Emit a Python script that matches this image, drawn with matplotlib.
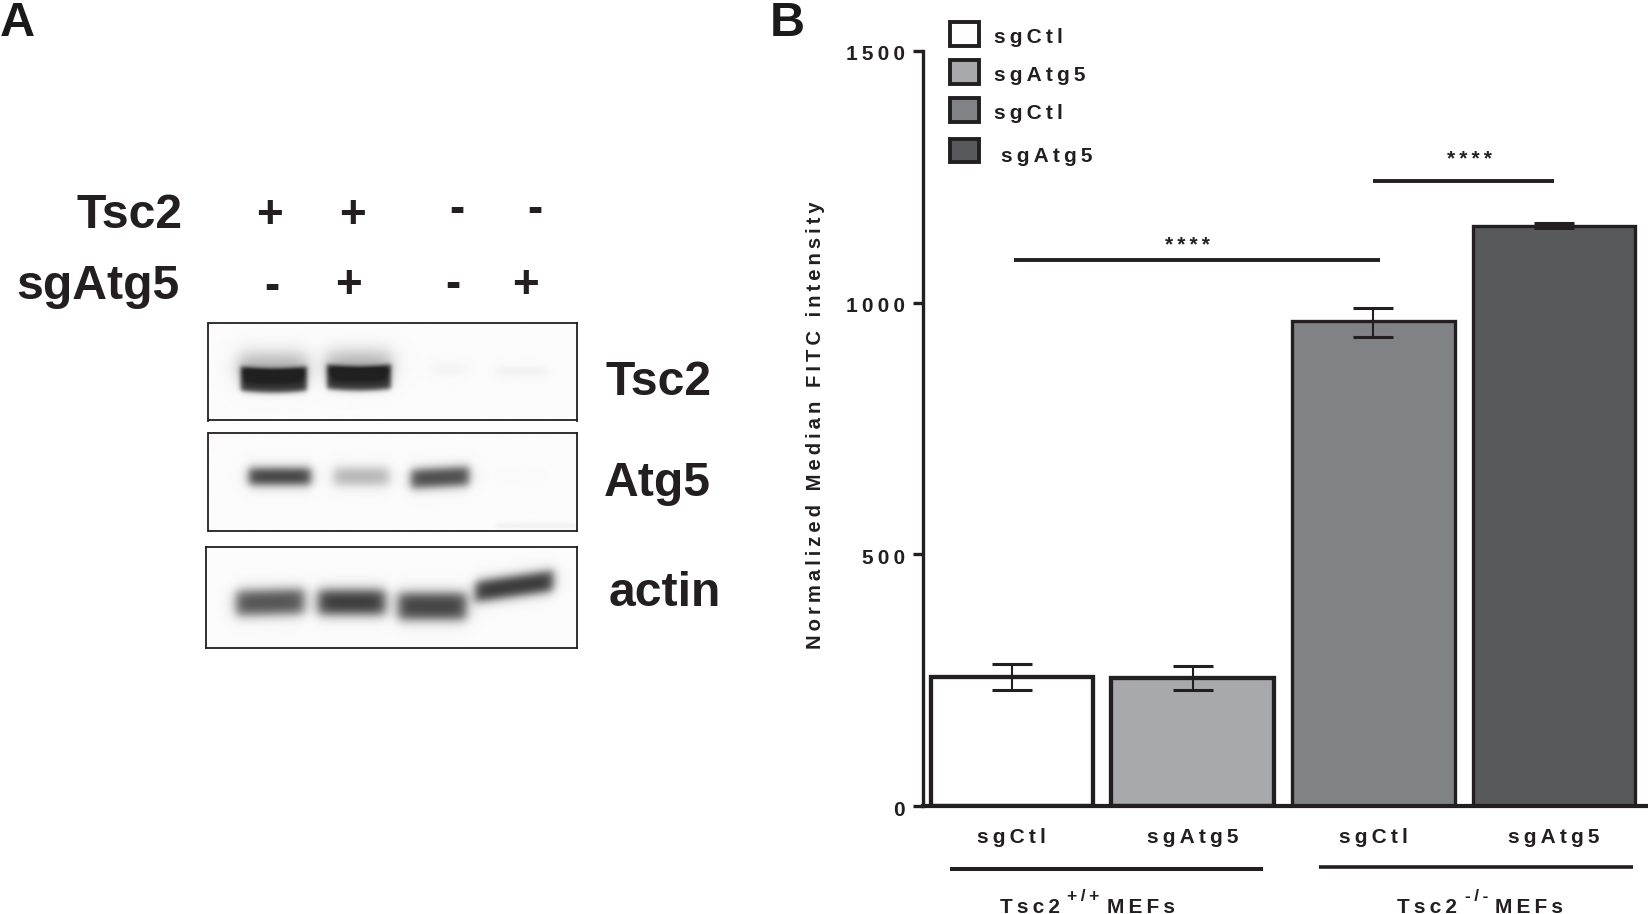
import numpy as np
import matplotlib
matplotlib.use("Agg")
import matplotlib.pyplot as plt
from matplotlib.patches import Rectangle
from matplotlib.transforms import ScaledTranslation

plt.rcParams['font.family'] = ['Liberation Sans', 'DejaVu Sans']
W, H = 1649, 914
INK = '#231f20'

# chart values
groups = ['sgCtl', 'sgAtg5', 'sgCtl', 'sgAtg5']
means = [256, 255, 963, 1153]
err_low = [231, 231, 932, 1148]
err_high = [283, 279, 990, 1158]
bar_colors = ['#ffffff', '#a7a9ac', '#808285', '#58595b']
yticks = [0, 500, 1000, 1500]

# blot band darkness per lane
tsc2_levels = [0.66, 0.66, 0.05, 0.08]
atg5_levels = [0.78, 0.3, 0.72, 0.015]
actin_levels = [0.68, 0.78, 0.74, 0.8]
row_tsc2 = ['+', '+', '-', '-']
row_sg = ['-', '+', '-', '+']


def spaced(s, gap='\u2009'):
    return gap.join(s)


def ftext(x, y, s, **kw):
    kw.setdefault('fontweight', 'bold')
    kw.setdefault('color', INK)
    return fig.text(x / W, 1 - y / H, s, **kw)


def fline(x0, x1, y, lw):
    fig.add_artist(plt.Line2D([x0 / W, x1 / W], [1 - y / H, 1 - y / H], color=INK, lw=lw,
                              solid_capstyle='butt'))


def soft(v, blur):
    return 1 / (1 + np.exp(-v / blur))


def blot(frame, bands):
    # frame = left, right, top, bottom in pixels
    l, r, t, b = frame
    a = fig.add_axes([l / W, 1 - b / H, (r - l) / W, (b - t) / H])
    xx, yy = np.meshgrid(np.arange(l, r, 0.5), np.arange(t, b, 0.5))
    img = np.full(xx.shape, 0.985)
    for x0, x1, yc, hh, level, tilt, curve, blur in bands:
        u = (xx - x0) / (x1 - x0)
        cy = yc + tilt * (u - 0.5) + curve * (1 - (2 * u - 1) ** 2)
        img -= level * soft(xx - x0, blur) * soft(x1 - xx, blur) * soft(yy - cy + hh, blur) * soft(cy + hh - yy, blur)
    a.imshow(np.clip(img, 0.13, 1), cmap='gray', vmin=0, vmax=1, extent=[l, r, b, t], aspect='auto',
             interpolation='bilinear')
    a.set_xticks([])
    a.set_yticks([])
    for sp in a.spines.values():
        sp.set_linewidth(1.3)
        sp.set_color(INK)


fig = plt.figure(figsize=(W / 100, H / 100), dpi=100)

# panel A
ftext(0, 36, 'A', fontsize=35, ha='left', va='baseline', color='#1a1a1a')
ftext(770, 36, 'B', fontsize=35, ha='left', va='baseline', color='#1a1a1a')

ftext(183, 228, 'Tsc2', fontsize=34.7, ha='right', va='baseline')
ftext(180, 299, 'sgAtg5', fontsize=34.7, ha='right', va='baseline')
for x, s in zip([270, 353, 457, 535], row_tsc2):
    ftext(x, 228 if s == '+' else 222, s, fontsize=33, ha='center', va='baseline')
for x, s, y in zip([272, 349, 453, 526], row_sg, [299, 298, 297, 298]):
    ftext(x, y, s, fontsize=33, ha='center', va='baseline')

blot((208.5, 577, 323, 420.5), [
    (240, 306, 379, 12, 0.72, 0, 2, 1.4),
    (238, 306, 368, 13, 0.3, 0, 0, 5),
    (326, 390, 377, 12, 0.72, 0, 2, 1.4),
    (326, 390, 366, 13, 0.3, 0, 0, 5),
    (431, 466, 370, 3, tsc2_levels[2], 0, 0, 3),
    (495, 545, 372, 2, tsc2_levels[3], 0, 0, 2.5),
])
blot((208.5, 577, 433, 530.5), [
    (248, 310, 477, 8, atg5_levels[0], 0, 0, 2.8),
    (333, 388, 477, 8, atg5_levels[1], 0, 0, 3.2),
    (410, 468, 478, 9, atg5_levels[2], -3, 0, 2.8),
    (500, 540, 477, 3, atg5_levels[3], 0, 0, 3),
    (495, 574, 526, 1, 0.08, 0, 0, 1.2),
])
blot((206, 577, 547, 648), [
    (236, 304, 602, 12, actin_levels[0], -2, 0, 3.4),
    (318, 385, 602, 12, actin_levels[1], 0, 0, 3.4),
    (398, 466, 606, 13, actin_levels[2], 0, 0, 3.4),
    (475, 553, 586, 10, actin_levels[3], -11, 0, 3),
])

ftext(606, 395, 'Tsc2', fontsize=34.7, ha='left', va='baseline')
ftext(604, 496, 'Atg5', fontsize=34.7, ha='left', va='baseline')
ftext(609, 606, 'actin', fontsize=34.7, ha='left', va='baseline')

# panel B
ax = fig.add_axes([923 / W, 1 - 806 / H, (W - 923) / W, 755 / H])
pos = np.arange(len(means))
means = np.array(means)
ax.bar(pos, means, width=0.9, color=bar_colors, edgecolor=INK, linewidth=[3.1, 3.1, 2.4, 2.4], zorder=2)
ax.errorbar(pos, means, yerr=[means - np.array(err_low), np.array(err_high) - means], fmt='none', ecolor=INK,
            elinewidth=1.5, capsize=14.5, capthick=2.2, zorder=3)
ax.set_xlim(-0.492, 3.526)
ax.set_ylim(0, 1500)
ax.patch.set_alpha(0)
for s in ['top', 'right']:
    ax.spines[s].set_visible(False)
ax.spines['left'].set_linewidth(2.4)
ax.spines['left'].set_color(INK)
ax.spines['bottom'].set_linewidth(3)
ax.spines['bottom'].set_color(INK)
ax.set_yticks(yticks)
ax.set_yticklabels([spaced(str(v)) for v in yticks], fontsize=15, fontweight='bold', color=INK)
ax.tick_params(axis='y', length=7, width=2.4, color=INK, pad=6)
for t in ax.get_yticklabels():
    t.set_transform(t.get_transform() + ScaledTranslation(0, -2 / 100, fig.dpi_scale_trans))
ax.set_xticks(pos)
ax.set_xticklabels([spaced(g) for g in groups], fontsize=15, fontweight='bold', color=INK)
ax.tick_params(axis='x', length=0, pad=16)
ax.plot([0.01, 2.04], [1084, 1084], color=INK, lw=2.8, solid_capstyle='butt', clip_on=False)
ax.plot([2.0, 3.0], [1241, 1241], color=INK, lw=2.8, solid_capstyle='butt', clip_on=False)
ax.text(0.97, 1113, spaced('****'), fontsize=15, fontweight='bold', color=INK, ha='center', va='center')
ax.text(2.53, 1284, spaced('****'), fontsize=15, fontweight='bold', color=INK, ha='center', va='center')

ftext(816, 425, spaced('Normalized Median FITC intensity'), fontsize=14.6, rotation=90, ha='center', va='center')

# legend, drawn by hand since the last row sits further right
for (y0, y1), c in zip([(22, 46), (60, 84), (98, 122), (139, 162)], bar_colors):
    fig.add_artist(Rectangle((950 / W, 1 - y1 / H), 29 / W, (y1 - y0) / H, facecolor=c, edgecolor=INK, lw=2.8,
                             transform=fig.transFigure))
for x, y, s in zip([994, 994, 994, 1001], [43, 81, 119, 162], groups):
    ftext(x, y, spaced(s), fontsize=15, ha='left', va='baseline')

# group labels under the axis
fline(950, 1263, 869, 2.9)
fline(1319, 1633, 867, 2.6)
ftext(1000, 913, spaced('Tsc2'), fontsize=15, ha='left', va='baseline')
ftext(1067, 901, spaced('+/+'), fontsize=12.5, ha='left', va='baseline')
ftext(1107, 913, spaced('MEFs'), fontsize=15, ha='left', va='baseline')
ftext(1397, 913, spaced('Tsc2'), fontsize=15, ha='left', va='baseline')
ftext(1465, 901, spaced('-/-'), fontsize=12.5, ha='left', va='baseline')
ftext(1495, 913, spaced('MEFs'), fontsize=15, ha='left', va='baseline')

fig.savefig('out.png', dpi=100)
